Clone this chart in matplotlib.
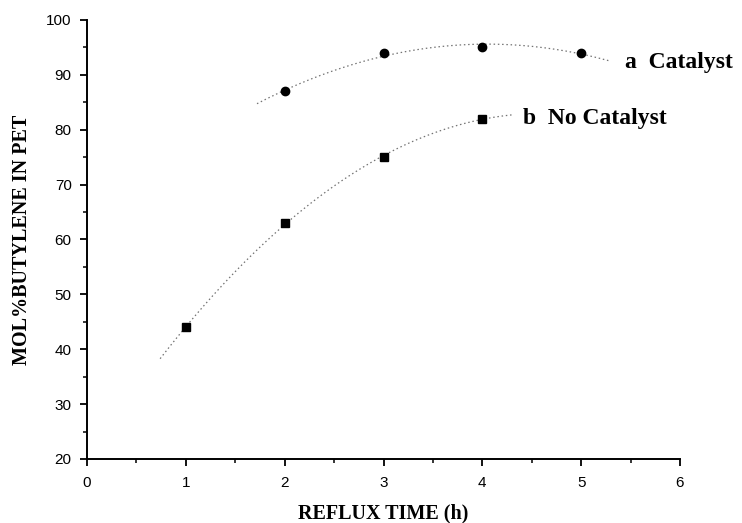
import numpy as np
import matplotlib
matplotlib.use("Agg")
import matplotlib.pyplot as plt
from matplotlib.ticker import MultipleLocator

# Data
time_catalyst = [2, 3, 4, 5]
butylene_catalyst = [87, 94, 95, 94]
time_nocat = [1, 2, 3, 4]
butylene_nocat = [44, 63, 75, 82]
label_catalyst = "a  Catalyst"
label_nocat = "b  No Catalyst"
xticks = [0, 1, 2, 3, 4, 5, 6]
yticks = [20, 30, 40, 50, 60, 70, 80, 90, 100]

fig = plt.figure(figsize=(7.42, 5.23), dpi=100)
ax = fig.add_axes([87/742, 1-459/523, (680-87)/742, (459-20)/523])

serif = ["Liberation Serif", "DejaVu Serif"]
sans = ["Liberation Sans", "DejaVu Sans"]

# Quadratic fit curves (dotted gray)
for xs, ys, lo, hi in [(time_catalyst, butylene_catalyst, 1.72, 5.29),
                       (time_nocat, butylene_nocat, 0.74, 4.30)]:
    p = np.polyfit(xs, ys, 2)
    xx = np.linspace(lo, hi, 200)
    ax.plot(xx, np.polyval(p, xx), linestyle=(0, (1.2, 2.2)), color="0.45", linewidth=0.9, zorder=2)

ax.plot(time_catalyst, butylene_catalyst, linestyle="none", marker="o", markersize=6,
        color="black", zorder=3)
ax.plot(time_nocat, butylene_nocat, linestyle="none", marker="s", markersize=5.8,
        color="black", zorder=3)

ax.text(5.44, 92.3, label_catalyst, fontsize=17, fontweight="bold", family=serif,
        va="center", ha="left")
ax.text(4.41, 82.1, label_nocat, fontsize=17, fontweight="bold", family=serif,
        va="center", ha="left")

ax.set_xlim(0, 6)
ax.set_ylim(20, 100)
ax.set_xticks(xticks)
ax.set_yticks(yticks)
ax.xaxis.set_minor_locator(MultipleLocator(0.5))
ax.yaxis.set_minor_locator(MultipleLocator(5))

for s in ["top", "right"]:
    ax.spines[s].set_visible(False)
for s in ["left", "bottom"]:
    ax.spines[s].set_linewidth(1.4)

ax.tick_params(which="major", direction="out", length=5, width=1.3, labelsize=11)
ax.tick_params(which="minor", direction="out", length=3, width=1.1)
ax.tick_params(axis="x", which="major", pad=7)
ax.tick_params(axis="y", which="major", pad=6)
for lab in ax.get_xticklabels() + ax.get_yticklabels():
    lab.set_family(sans)

ax.set_xlabel("REFLUX TIME (h)", fontsize=14.5, fontweight="bold", family=serif, labelpad=10)
ax.set_ylabel("MOL%BUTYLENE IN PET", fontsize=14.5, fontweight="bold", family=serif, labelpad=10)

fig.savefig("out.png", dpi=100)
